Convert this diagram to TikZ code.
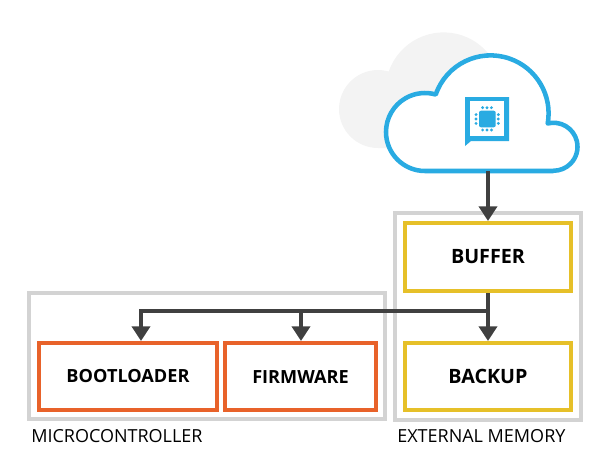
\documentclass[tikz,border=0pt]{standalone}
\usepackage{xcolor}
\usepackage{fontspec}
\setmainfont{Open Sans}
\usetikzlibrary{arrows.meta}
\definecolor{cloudblue}{HTML}{29ABE2}
\definecolor{cloudgrey}{HTML}{F3F3F3}
\definecolor{framegrey}{HTML}{D3D3D3}
\definecolor{firmorange}{HTML}{E8622A}
\definecolor{memyellow}{HTML}{E6C029}
\definecolor{flowgrey}{HTML}{404040}
\tikzset{
	frame/.style={draw=framegrey,line width=3pt,minimum width=#1},
	firmbox/.style={draw=firmorange,line width=3pt,minimum width=#1,minimum height=50.25pt,font=\bfseries\fontsize{13.6}{16}\selectfont},
	membox/.style={draw=memyellow,line width=3pt,minimum width=124.5pt,minimum height=50.25pt,font=\bfseries\fontsize{14.8}{17}\selectfont},
	flow/.style={draw=flowgrey,line width=3pt,-{Triangle[width=13.5pt,length=11pt]}},
	caption/.style={anchor=base west,inner sep=0pt,font=\fontsize{13.5}{16}\selectfont}
}
\newcommand{\cloudoutline}{-- (425,291) arc[start angle=270,end angle=74,radius=39] arc[start angle=161,end angle=-10,radius=58] arc[start angle=104,end angle=-90,radius=24] -- cycle}
\begin{document}
\begin{tikzpicture}[x=0.75pt,y=0.75pt]
	\useasboundingbox (0,0) rectangle (614,462);
	% clouds
	\fill[cloudgrey,shift={(-47,23)}] (553,291) \cloudoutline;
	\draw[cloudblue,fill=white,line width=3.4pt,line join=round] (553,291) \cloudoutline;
	% chip icon
	\fill[cloudblue] (465,365) rectangle (509,321) (465,321) -- (465,316) -- (471,321) -- cycle;
	\fill[white] (470,361) rectangle (504,326);
	\fill[cloudblue,rounded corners=1.5pt] (479,351.3) rectangle (495.7,334.7);
	\foreach \pin in {-4.4,0,4.4}{
		\fill[cloudblue] (487+\pin,354.3) circle (1.6);
		\fill[cloudblue] (487+\pin,332) circle (1.6);
		\fill[cloudblue] (476,343+\pin) circle (1.6);
		\fill[cloudblue] (498.3,343+\pin) circle (1.6);
	}
	% frames
	\node[frame=267pt,minimum height=94.5pt] (micro) at (207,106) {};
	\node[frame=139.5pt,minimum height=155.25pt] (extmem) at (488,145.5) {};
	% boxes
	\node[firmbox=133.5pt] (bootloader) at (128,85.5) {BOOTLOADER};
	\node[firmbox=113.25pt] (firmware) at (300.5,85.5) {FIRMWARE};
	\node[membox,minimum height=51pt] (buffer) at (488,205) {BUFFER};
	\node[membox] (backup) at (488,85.5) {BACKUP};
	% labels
	\node[caption] (microlabel) at (31,20) {MICROCONTROLLER};
	\node[caption] (extlabel) at (397,20) {EXTERNAL MEMORY};
	% connectors
	\coordinate (cloudout) at (488,291);
	\coordinate (bus) at (488,151);
	\coordinate (bootbus) at (141,151);
	\coordinate (firmbus) at (301,151);
	\draw[flow] (cloudout) -- (buffer.north);
	\draw[flow] (buffer.south) -- (backup.north);
	\draw[flow] (bus) -- (bootbus) -- (bootbus |- bootloader.north);
	\draw[flow] (firmbus) -- (firmbus |- firmware.north);
\end{tikzpicture}
\end{document}
